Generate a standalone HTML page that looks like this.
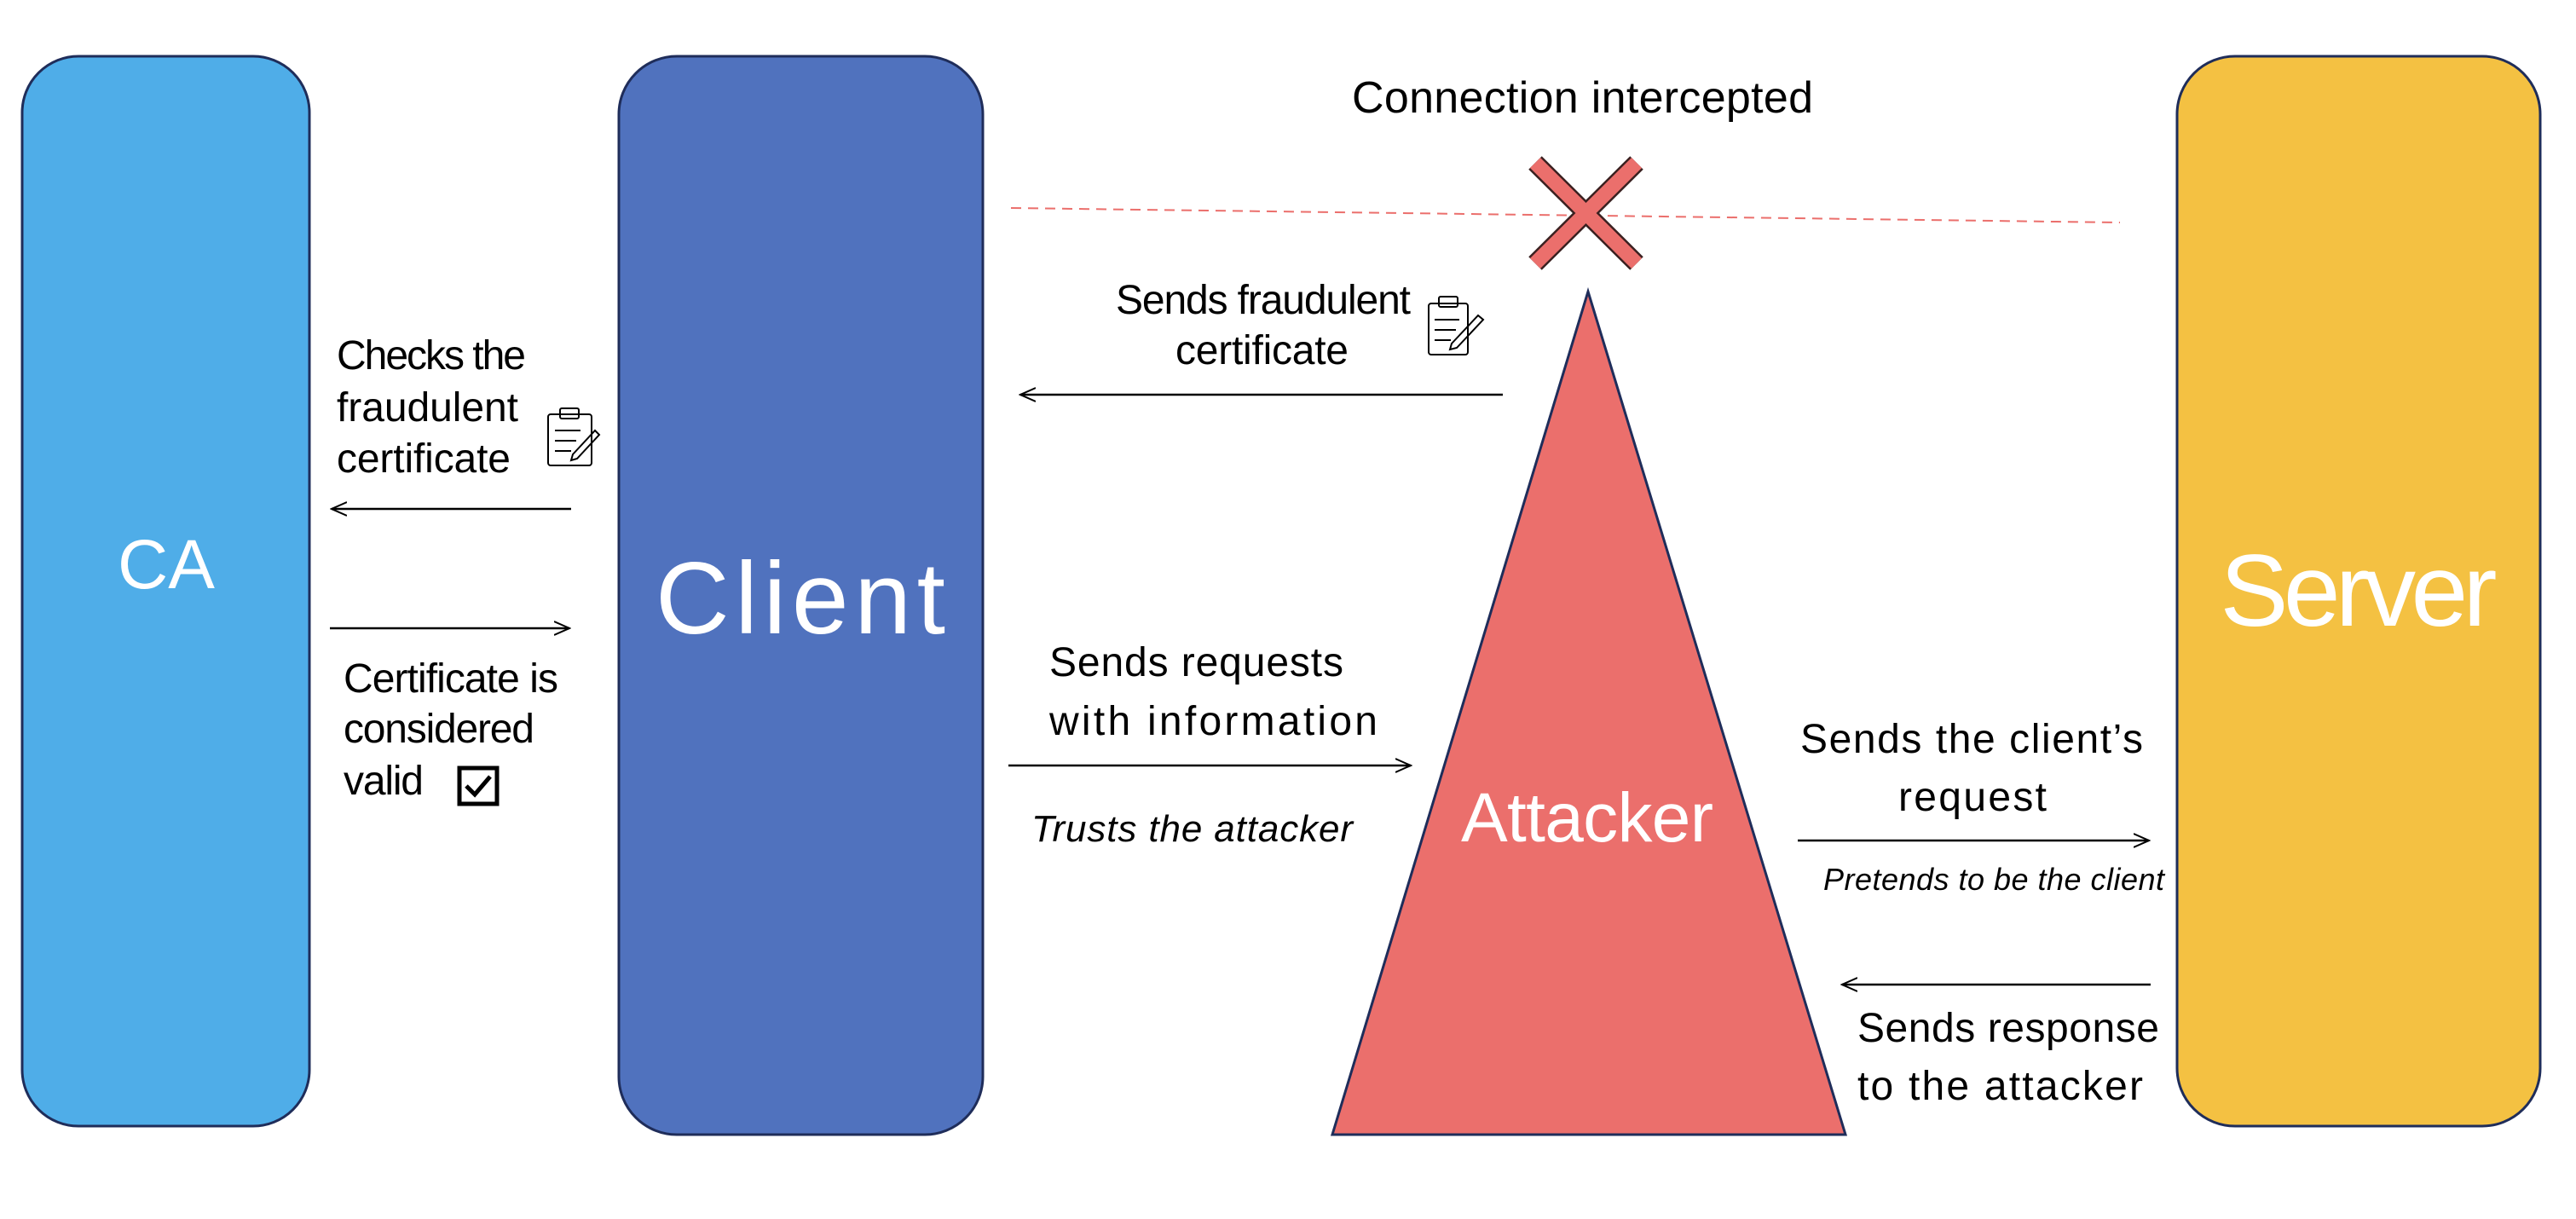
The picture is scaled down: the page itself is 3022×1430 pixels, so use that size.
<!DOCTYPE html>
<html><head><meta charset="utf-8"><style>html,body{margin:0;padding:0;background:#fff}svg{display:block}</style></head>
<body>
<svg width="3022" height="1430" viewBox="0 0 3022 1430" xmlns="http://www.w3.org/2000/svg" font-family="Liberation Sans, sans-serif">
<defs>
<marker id="ah" viewBox="0 0 20 20" refX="18" refY="10" markerWidth="20" markerHeight="20" markerUnits="userSpaceOnUse" orient="auto">
<path d="M0,2 L18,10 L0,18" fill="none" stroke="#000" stroke-width="2"/></marker>
</defs>
<rect x="26" y="66" width="337" height="1255" rx="66" fill="#4FADE8" stroke="#1F2D5A" stroke-width="3"/>
<rect x="726" y="66" width="427" height="1265" rx="68" fill="#5072BE" stroke="#1F2D5A" stroke-width="3"/>
<rect x="2554" y="66" width="426" height="1255" rx="68" fill="#F4C142" stroke="#1F2D5A" stroke-width="3"/>
<polygon points="1863,342 1563,1331 2165,1331" fill="#EB6F6C" stroke="#1F2D5A" stroke-width="3"/>
<line x1="1186" y1="244" x2="2487" y2="261" stroke="#EB6F6C" stroke-width="2" stroke-dasharray="12,8"/>
<g stroke="#3a2020" stroke-width="22" stroke-linecap="butt"><line x1="1801" y1="191" x2="1920" y2="309"/><line x1="1920" y1="191" x2="1801" y2="309"/></g>
<g stroke="#EB6F6C" stroke-width="17"><line x1="1801" y1="191" x2="1920" y2="309"/><line x1="1920" y1="191" x2="1801" y2="309"/></g>

<g fill="#fff" text-anchor="middle">
<text x="195" y="690" font-size="82">CA</text>
<text x="939" y="743" font-size="120" textLength="340">Client</text>
<text x="2767" y="734" font-size="120" textLength="325">Server</text>
<text x="1862" y="987" font-size="82" textLength="296">Attacker</text>
</g>

<g fill="#000" font-size="48">
<text x="1586" y="132" font-size="52" textLength="541">Connection intercepted</text>
<text x="395" y="433" textLength="222">Checks the</text>
<text x="395" y="494" textLength="213">fraudulent</text>
<text x="395" y="554" textLength="204">certificate</text>
<text x="403" y="812" textLength="252">Certificate is</text>
<text x="403" y="871" textLength="224">considered</text>
<text x="403" y="932" textLength="94">valid</text>
<text x="1309" y="368" textLength="346">Sends fraudulent</text>
<text x="1379" y="427" textLength="203">certificate</text>
<text x="1231" y="793" textLength="345">Sends requests</text>
<text x="1231" y="862" textLength="385">with information</text>
<text x="1210" y="987" font-style="italic" font-size="44" textLength="377">Trusts the attacker</text>
<text x="2112" y="883" textLength="402">Sends the client’s</text>
<text x="2227" y="951" textLength="174">request</text>
<text x="2139" y="1044" font-style="italic" font-size="36" textLength="400">Pretends to be the client</text>
<text x="2179" y="1222" textLength="354">Sends response</text>
<text x="2179" y="1290" textLength="335">to the attacker</text>
</g>

<g stroke="#000" stroke-width="2.5" fill="none">
<line x1="670" y1="597" x2="389" y2="597" marker-end="url(#ah)"/>
<line x1="387" y1="737" x2="668" y2="737" marker-end="url(#ah)"/>
<line x1="1763" y1="463" x2="1197" y2="463" marker-end="url(#ah)"/>
<line x1="1183" y1="898" x2="1655" y2="898" marker-end="url(#ah)"/>
<line x1="2109" y1="986" x2="2521" y2="986" marker-end="url(#ah)"/>
<line x1="2523" y1="1155" x2="2161" y2="1155" marker-end="url(#ah)"/>
</g>

<rect x="539" y="901" width="44" height="42" fill="none" stroke="#000" stroke-width="5"/>
<path d="M547,922 L557,932 L575,911" fill="none" stroke="#000" stroke-width="5"/>

<g fill="none" stroke="#000" stroke-width="2">
<rect x="643" y="486" width="51" height="60" rx="3"/>
<rect x="657" y="479" width="22" height="12" rx="2"/>
<line x1="651" y1="505" x2="681" y2="505"/><line x1="651" y1="517" x2="676" y2="517"/><line x1="651" y1="529" x2="670" y2="529"/>
<path d="M672,533 L698,505 L703,510 L677,538 L670,540 Z"/>
<rect x="1676" y="356" width="46" height="60" rx="3"/>
<rect x="1688" y="348" width="22" height="12" rx="2"/>
<line x1="1683" y1="375" x2="1712" y2="375"/><line x1="1683" y1="387" x2="1708" y2="387"/><line x1="1683" y1="399" x2="1702" y2="399"/>
<path d="M1703,403 L1734,370 L1740,375 L1709,408 L1701,410 Z"/>
</g>
</svg>
</body></html>
